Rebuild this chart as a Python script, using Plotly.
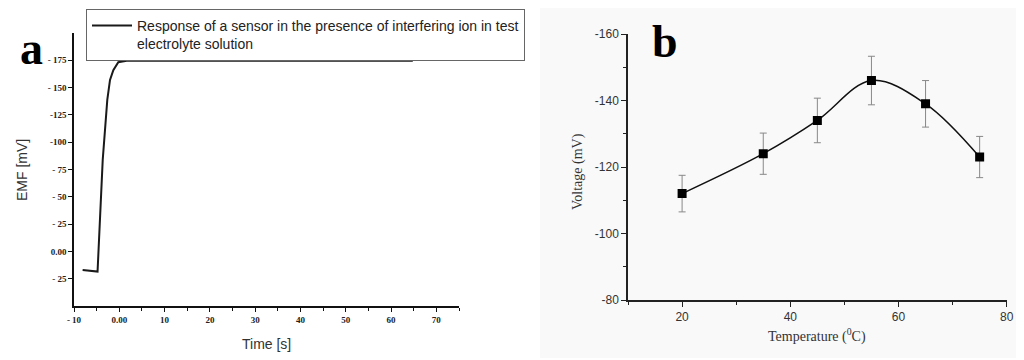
import plotly.graph_objects as go

# ---- Panel a data: sensor response ----
time_s = [-8.1, -4.8, -3.66, -2.65, -2.05, -1.32, -0.22, 1.63, 64.8]
emf_mv = [17, 18.5, -83.8, -138.7, -157, -166, -173.3, -174.5, -174.5]
a_xtick_vals = [-10, 0, 10, 20, 30, 40, 50, 60, 70]
a_xtick_text = ["- 10", "0.00", "10", "20", "30", "40", "50", "60", "70"]
a_ytick_vals = [25, 0, -25, -50, -75, -100, -125, -150, -175]
a_ytick_text = ["- 25", "0.00", "- 25", "- 50", "- 75", "-100", "-125", "- 150", "- 175"]

# ---- Panel b data: voltage vs temperature ----
temperature_c = [20, 35, 45, 55, 65, 75]
voltage_mv = [-112, -124, -134, -146, -139, -123]
voltage_err = [5.5, 6.2, 6.7, 7.3, 7.0, 6.2]
b_xtick_vals = [20, 40, 60, 80]
b_ytick_vals = [-160, -140, -120, -100, -80]
b_ytick_text = ["-160", "-140", "-120", "-100", "-80"]

# page body has an 8px margin; size the figure so it fills the rest of the window
OFF = 8
W, H = 1024 - OFF, 360 - OFF
def px_x(x):
    return (x - OFF) / W
def px_y(y):
    return 1 - (y - OFF) / H

fig = go.Figure()

fig.add_trace(go.Scatter(
    x=time_s, y=emf_mv, mode="lines",
    line=dict(color="#1a1a1a", width=2),
    name="Response of a sensor in the presence of interfering ion in test<br>electrolyte solution",
    xaxis="x", yaxis="y", showlegend=True,
))

fig.add_trace(go.Scatter(
    x=temperature_c, y=voltage_mv, mode="lines+markers",
    line=dict(color="#111", width=1.5, shape="spline", smoothing=1),
    marker=dict(symbol="square", size=9, color="#000"),
    error_y=dict(type="data", array=voltage_err, color="#888", thickness=1, width=3.5),
    xaxis="x2", yaxis="y2", showlegend=False,
))

serif = "Liberation Serif, Times New Roman, serif"
sans = "Liberation Sans, Arial, sans-serif"

def label(text, x, y, font, angle=0):
    return dict(text=text, x=px_x(x), y=px_y(y), xref="paper", yref="paper",
                xanchor="center", yanchor="middle", textangle=angle,
                showarrow=False, font=font)

fig.update_layout(
    width=W, height=H,
    margin=dict(l=0, r=0, t=0, b=0, pad=0, autoexpand=False),
    paper_bgcolor="white", plot_bgcolor="rgba(0,0,0,0)",
    showlegend=True,
    legend=dict(
        x=px_x(86), y=px_y(9), xanchor="left", yanchor="top",
        bordercolor="#666", borderwidth=1, bgcolor="white",
        font=dict(family=sans, size=14, color="#222"),
        valign="top", itemwidth=40,
    ),
    xaxis=dict(
        domain=[px_x(74), px_x(459)], range=[-10, 75], anchor="y", automargin=False,
        showgrid=False, zeroline=False, showline=True, linecolor="#111", linewidth=1.5,
        ticks="outside", ticklen=4, tickcolor="#111", tickwidth=1.2,
        tickvals=a_xtick_vals, ticktext=a_xtick_text,
        tickfont=dict(family=serif, size=9, color="#222", weight="bold"),
        minor=dict(dtick=5, tick0=0, ticks="outside", ticklen=3, tickcolor="#111"),
    ),
    yaxis=dict(
        domain=[px_y(306), px_y(33)], range=[50, -200], anchor="x", automargin=False,
        showgrid=False, zeroline=False, showline=True, linecolor="#111", linewidth=1.5,
        ticks="outside", ticklen=4, tickcolor="#111", tickwidth=1.2,
        tickvals=a_ytick_vals, ticktext=a_ytick_text,
        tickfont=dict(family=serif, size=9, color="#222", weight="bold"),
    ),
    xaxis2=dict(
        domain=[px_x(628), px_x(1006.7)], range=[10, 80], anchor="y2", automargin=False,
        showgrid=False, zeroline=False, showline=True, linecolor="#222", linewidth=1.5,
        ticks="outside", ticklen=5, tickcolor="#222", tickwidth=1.2,
        tickvals=b_xtick_vals,
        tickfont=dict(family=sans, size=12, color="#333"),
        minor=dict(tickvals=[10, 30, 50, 70], ticks="outside", ticklen=3, tickcolor="#222"),
    ),
    yaxis2=dict(
        domain=[px_y(300), px_y(34)], range=[-80, -160], anchor="x2", automargin=False,
        showgrid=False, zeroline=False, showline=True, linecolor="#222", linewidth=1.5,
        ticks="outside", ticklen=5, tickcolor="#222", tickwidth=1.2,
        tickvals=b_ytick_vals, ticktext=b_ytick_text,
        tickfont=dict(family=sans, size=12, color="#333"),
        minor=dict(tickvals=[-150, -130, -110, -90], ticks="outside", ticklen=3, tickcolor="#222"),
    ),
    shapes=[dict(type="rect", xref="paper", yref="paper",
                 x0=px_x(540), x1=1, y0=px_y(358), y1=1,
                 fillcolor="#f9f9f9", line=dict(width=0), layer="below")],
    annotations=[
        label("a", 31, 48, dict(family=serif, size=46, color="#000", weight="bold")),
        label("b", 665, 42, dict(family=serif, size=46, color="#000", weight="bold")),
        label("EMF [mV]", 22, 170, dict(family=sans, size=14, color="#333"), -90),
        label("Time [s]", 266, 344, dict(family=sans, size=14, color="#333")),
        label("Voltage (mV)", 578, 172, dict(family=serif, size=14, color="#333"), -90),
        label("Temperature (<sup>0</sup>C)", 817, 335, dict(family=serif, size=14, color="#333")),
    ],
)

fig.write_html("out.html")
